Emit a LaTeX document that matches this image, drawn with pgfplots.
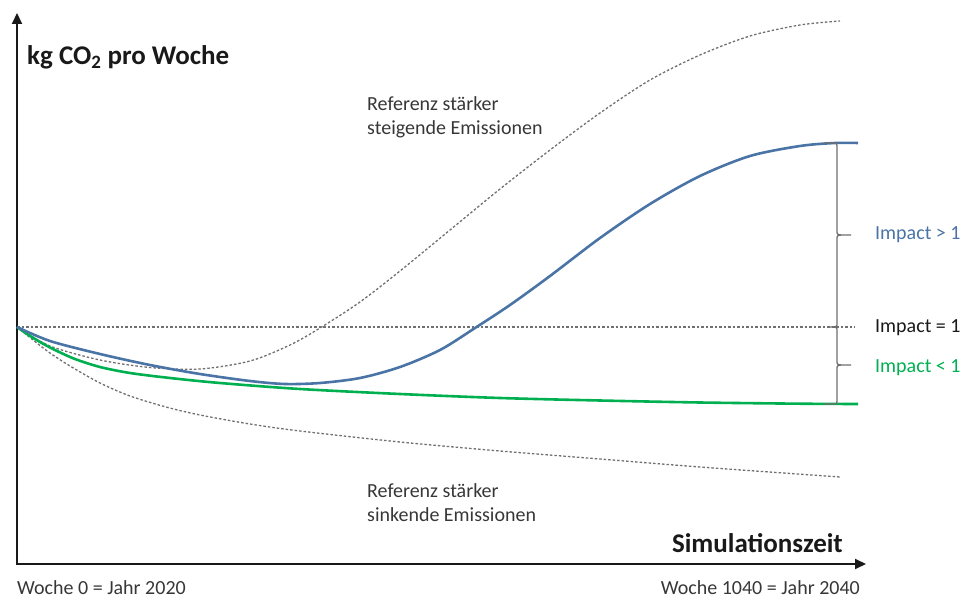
\documentclass[border=0pt]{standalone}
\usepackage{pgfplots}
\pgfplotsset{compat=1.18}
\usepackage{fontspec}
\setmainfont{Carlito}
\usetikzlibrary{decorations.pathreplacing,arrows.meta}
\definecolor{cblue}{RGB}{74,116,166}
\definecolor{cgreen}{RGB}{0,176,80}
\definecolor{cgray}{RGB}{112,112,112}
\definecolor{cbrace}{RGB}{110,110,110}
\definecolor{caxis}{RGB}{25,25,25}
\definecolor{ctext}{RGB}{55,55,55}
\begin{document}
\begin{tikzpicture}
\begin{axis}[x=1pt,y=1pt,y dir=reverse,xmin=0,xmax=962,ymin=0,ymax=599,hide axis,clip=false]
\path (axis cs:0,0) rectangle (axis cs:962,599);
% axes
\draw[line width=2pt,color=caxis,{Triangle[length=11pt,width=10pt]}-{Triangle[length=11pt,width=10pt]}] (axis cs:17,13) -- (axis cs:17,564) -- (axis cs:866,564);
% reference line
\addplot[cgray,line width=1.3pt,dash pattern=on 2.5pt off 2pt] coordinates {(17,327) (855,327)};
% upper reference
\addplot[cgray,line width=1.3pt,dash pattern=on 2.5pt off 2pt,smooth,tension=0.5] coordinates {
(17,327) (50,346) (100,360) (150,367.5) (200,369) (250,361) (290,345) (320,328) (360,302) (400,271) (450,230) (500,189) (550,150) (600,113) (650,80) (700,55) (750,36) (800,25) (840,21)};
% lower reference
\addplot[cgray,line width=1.3pt,dash pattern=on 2.5pt off 2pt,smooth,tension=0.5] coordinates {
(17,327) (33,340) (50,353) (70,366) (100,383) (130,396) (166,407) (200,415) (250,424) (300,431) (400,442) (500,451) (600,459) (700,467) (840,477)};
% green
\addplot[cgreen,line width=2.6pt,smooth,tension=0.5] coordinates {
(17,327) (27,334) (40,342) (55,350) (75,359) (100,367) (130,373) (170,378) (220,383) (300,389) (400,394) (500,398) (600,400.5) (700,402.5) (800,403.7) (858,404)};
% blue
\addplot[cblue,line width=2.6pt,smooth,tension=0.5] coordinates {
(17,327) (50,341) (100,354) (150,365) (200,374) (250,381) (285,384) (320,383) (360,378) (400,367) (440,350) (475,328) (510,305) (550,276) (600,238) (650,204) (700,176) (750,156) (800,146) (835,143) (858,143)};
% brackets
\begin{scope}[cbrace,line width=1.3pt]
\draw (axis cs:824,143) -- (axis cs:834,143) .. controls (axis cs:837,143) .. (axis cs:837,146) -- (axis cs:837,230) .. controls (axis cs:837,234.5) .. (axis cs:841,235) -- (axis cs:851,235);
\draw (axis cs:841,235) .. controls (axis cs:837,235.5) .. (axis cs:837,240) -- (axis cs:837,323) .. controls (axis cs:837,326.5) .. (axis cs:833,327) -- (axis cs:828,327);
\draw (axis cs:833,327) .. controls (axis cs:837,327.5) .. (axis cs:837,331) -- (axis cs:837,360) .. controls (axis cs:837,364.5) .. (axis cs:841,365) -- (axis cs:851,365);
\draw (axis cs:841,365) .. controls (axis cs:837,365.5) .. (axis cs:837,370) -- (axis cs:837,401) .. controls (axis cs:837,404) .. (axis cs:834,404) -- (axis cs:824,404);
\end{scope}
% labels
\node[anchor=base west,font=\bfseries\fontsize{27}{31}\selectfont,inner sep=0pt,text=black!90] at (axis cs:27,65) {kg CO\textsubscript{2} pro Woche};
\node[anchor=base east,font=\bfseries\fontsize{27}{31}\selectfont,inner sep=0pt,text=black!90] at (axis cs:843,552) {Simulationszeit};
\node[anchor=base west,font=\fontsize{20}{24}\selectfont,inner sep=0pt,text=ctext] at (axis cs:17,594) {Woche 0 = Jahr 2020};
\node[anchor=base east,font=\fontsize{20}{24}\selectfont,inner sep=0pt,text=ctext] at (axis cs:860,594) {Woche 1040 = Jahr 2040};
\node[anchor=north west,align=left,font=\fontsize{20}{24}\selectfont,inner sep=0pt,text=ctext] at (axis cs:367,96) {Referenz stärker\\steigende Emissionen};
\node[anchor=north west,align=left,font=\fontsize{20}{24}\selectfont,inner sep=0pt,text=ctext] at (axis cs:367,483) {Referenz stärker\\sinkende Emissionen};
\node[anchor=west,font=\fontsize{20}{24}\selectfont,inner sep=0pt,text=cblue] at (axis cs:875,235) {Impact > 1};
\node[anchor=west,font=\fontsize{20}{24}\selectfont,inner sep=0pt,text=black!90] at (axis cs:875,328) {Impact = 1};
\node[anchor=west,font=\fontsize{20}{24}\selectfont,inner sep=0pt,text=cgreen] at (axis cs:875,368) {Impact < 1};
\end{axis}
\end{tikzpicture}
\end{document}
